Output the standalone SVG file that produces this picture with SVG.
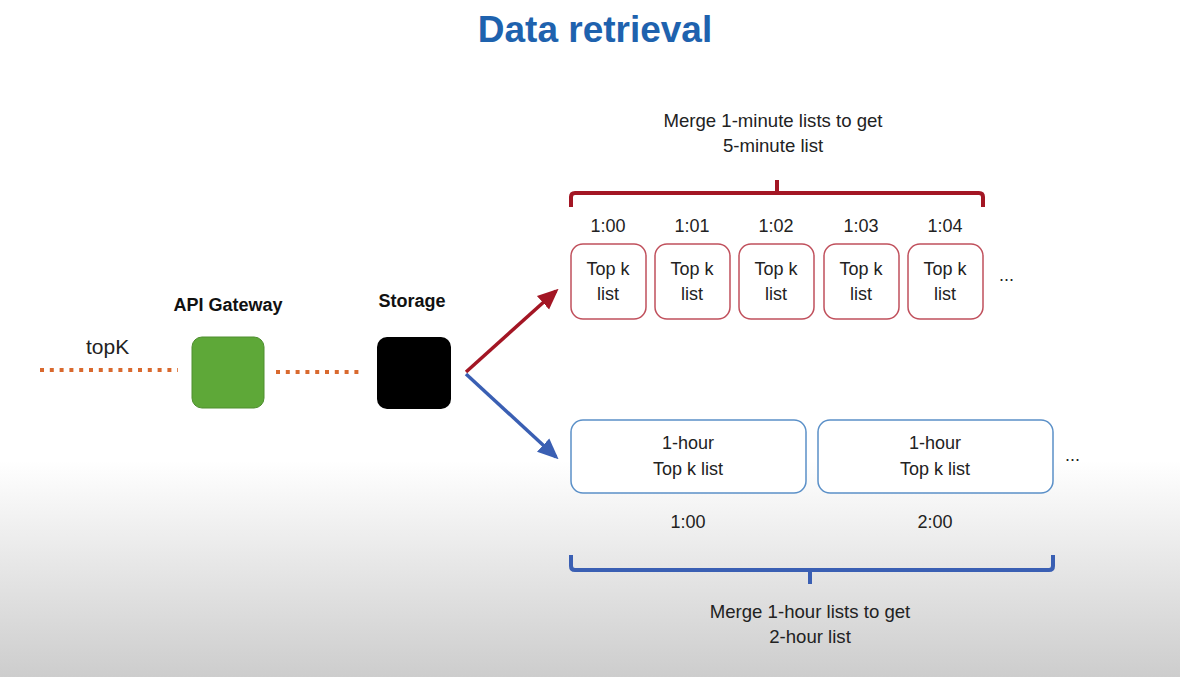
<svg xmlns="http://www.w3.org/2000/svg" width="1180" height="677" viewBox="0 0 1180 677">
<defs>
<linearGradient id="bg" x1="0" y1="0" x2="0" y2="1">
<stop offset="0" stop-color="#ffffff"/>
<stop offset="0.68" stop-color="#ffffff"/>
<stop offset="1" stop-color="#cdcdcd"/>
</linearGradient>
<marker id="arrRed" markerWidth="6" markerHeight="6" refX="5" refY="3" orient="auto" markerUnits="strokeWidth">
<path d="M0,0.4 L6,3 L0,5.6 Z" fill="#a31624"/>
</marker>
<marker id="arrBlue" markerWidth="6" markerHeight="6" refX="5" refY="3" orient="auto" markerUnits="strokeWidth">
<path d="M0,0.4 L6,3 L0,5.6 Z" fill="#3a5fb3"/>
</marker>
</defs>
<style>
text{font-family:"Liberation Sans",Arial,sans-serif;fill:#222;}
.t{font-size:18px;text-anchor:middle;}
.m{font-size:18.6px;text-anchor:middle;}
.b{font-size:18px;font-weight:bold;text-anchor:middle;fill:#111;}
.title{font-size:37px;font-weight:bold;text-anchor:middle;fill:#1e62ae;}
.dot{stroke:#d9692e;stroke-width:4;stroke-dasharray:4 5.8;fill:none;}
.rbox{fill:#fff;stroke:#c0505c;stroke-width:1.5;}
.bbox{fill:#fff;stroke:#5b90c8;stroke-width:1.5;}
.rbr{fill:none;stroke:#a31624;stroke-width:4;stroke-linejoin:round;}
.bbr{fill:none;stroke:#3a5fb3;stroke-width:4;stroke-linejoin:round;}
</style>
<rect x="0" y="0" width="1180" height="677" fill="url(#bg)"/>
<text class="title" x="595" y="42">Data retrieval</text>

<g id="connectors">
<line class="dot" x1="40" y1="370" x2="178" y2="370"/>
<line class="dot" x1="276" y1="372" x2="362" y2="372"/>
<line x1="466" y1="372" x2="556" y2="291" stroke="#a31624" stroke-width="3.5" marker-end="url(#arrRed)"/>
<line x1="466" y1="374" x2="556" y2="457" stroke="#3a5fb3" stroke-width="3.5" marker-end="url(#arrBlue)"/>
</g>
<text x="86" y="354" style="font-size:21px">topK</text>

<g id="api-gateway">
<text class="b" x="228" y="311">API Gateway</text>
<rect x="192" y="337" width="72" height="71" rx="10" fill="#5ea838" stroke="#4e8e2f" stroke-width="1"/>
</g>
<g id="storage">
<text class="b" x="412" y="307">Storage</text>
<rect x="377" y="337" width="74" height="72" rx="10" fill="#000"/>
</g>

<g id="minute-brace">
<path class="rbr" d="M571,207 L571,197 Q571,193 575,193 L777,193 L777,180 M777,193 L979,193 Q983,193 983,197 L983,207"/>
<text class="m" x="773" y="127">Merge 1-minute lists to get</text>
<text class="m" x="773" y="152">5-minute list</text>
</g>

<g id="min-1-00">
<text class="t" x="608" y="232">1:00</text>
<rect class="rbox" x="571" y="244" width="75" height="75" rx="12"/>
<text class="t" x="608" y="275">Top k</text>
<text class="t" x="608" y="300">list</text>
</g>
<g id="min-1-01">
<text class="t" x="692" y="232">1:01</text>
<rect class="rbox" x="655" y="244" width="75" height="75" rx="12"/>
<text class="t" x="692" y="275">Top k</text>
<text class="t" x="692" y="300">list</text>
</g>
<g id="min-1-02">
<text class="t" x="776" y="232">1:02</text>
<rect class="rbox" x="739" y="244" width="75" height="75" rx="12"/>
<text class="t" x="776" y="275">Top k</text>
<text class="t" x="776" y="300">list</text>
</g>
<g id="min-1-03">
<text class="t" x="861" y="232">1:03</text>
<rect class="rbox" x="824" y="244" width="75" height="75" rx="12"/>
<text class="t" x="861" y="275">Top k</text>
<text class="t" x="861" y="300">list</text>
</g>
<g id="min-1-04">
<text class="t" x="945" y="232">1:04</text>
<rect class="rbox" x="908" y="244" width="75" height="75" rx="12"/>
<text class="t" x="945" y="275">Top k</text>
<text class="t" x="945" y="300">list</text>
</g>
<text x="999" y="281" style="font-size:18px">...</text>

<g id="hour-1-00">
<rect class="bbox" x="571" y="420" width="235" height="73" rx="12"/>
<text class="t" x="688" y="449">1-hour</text>
<text class="t" x="688" y="475">Top k list</text>
<text class="t" x="688" y="528">1:00</text>
</g>
<g id="hour-2-00">
<rect class="bbox" x="818" y="420" width="235" height="73" rx="12"/>
<text class="t" x="935" y="449">1-hour</text>
<text class="t" x="935" y="475">Top k list</text>
<text class="t" x="935" y="528">2:00</text>
</g>
<text x="1065" y="461" style="font-size:18px">...</text>

<g id="hour-brace">
<path class="bbr" d="M571,555 L571,566 Q571,570 575,570 L810,570 L810,584 M810,570 L1049,570 Q1053,570 1053,566 L1053,555"/>
<text class="m" x="810" y="618">Merge 1-hour lists to get</text>
<text class="m" x="810" y="643">2-hour list</text>
</g>
</svg>
